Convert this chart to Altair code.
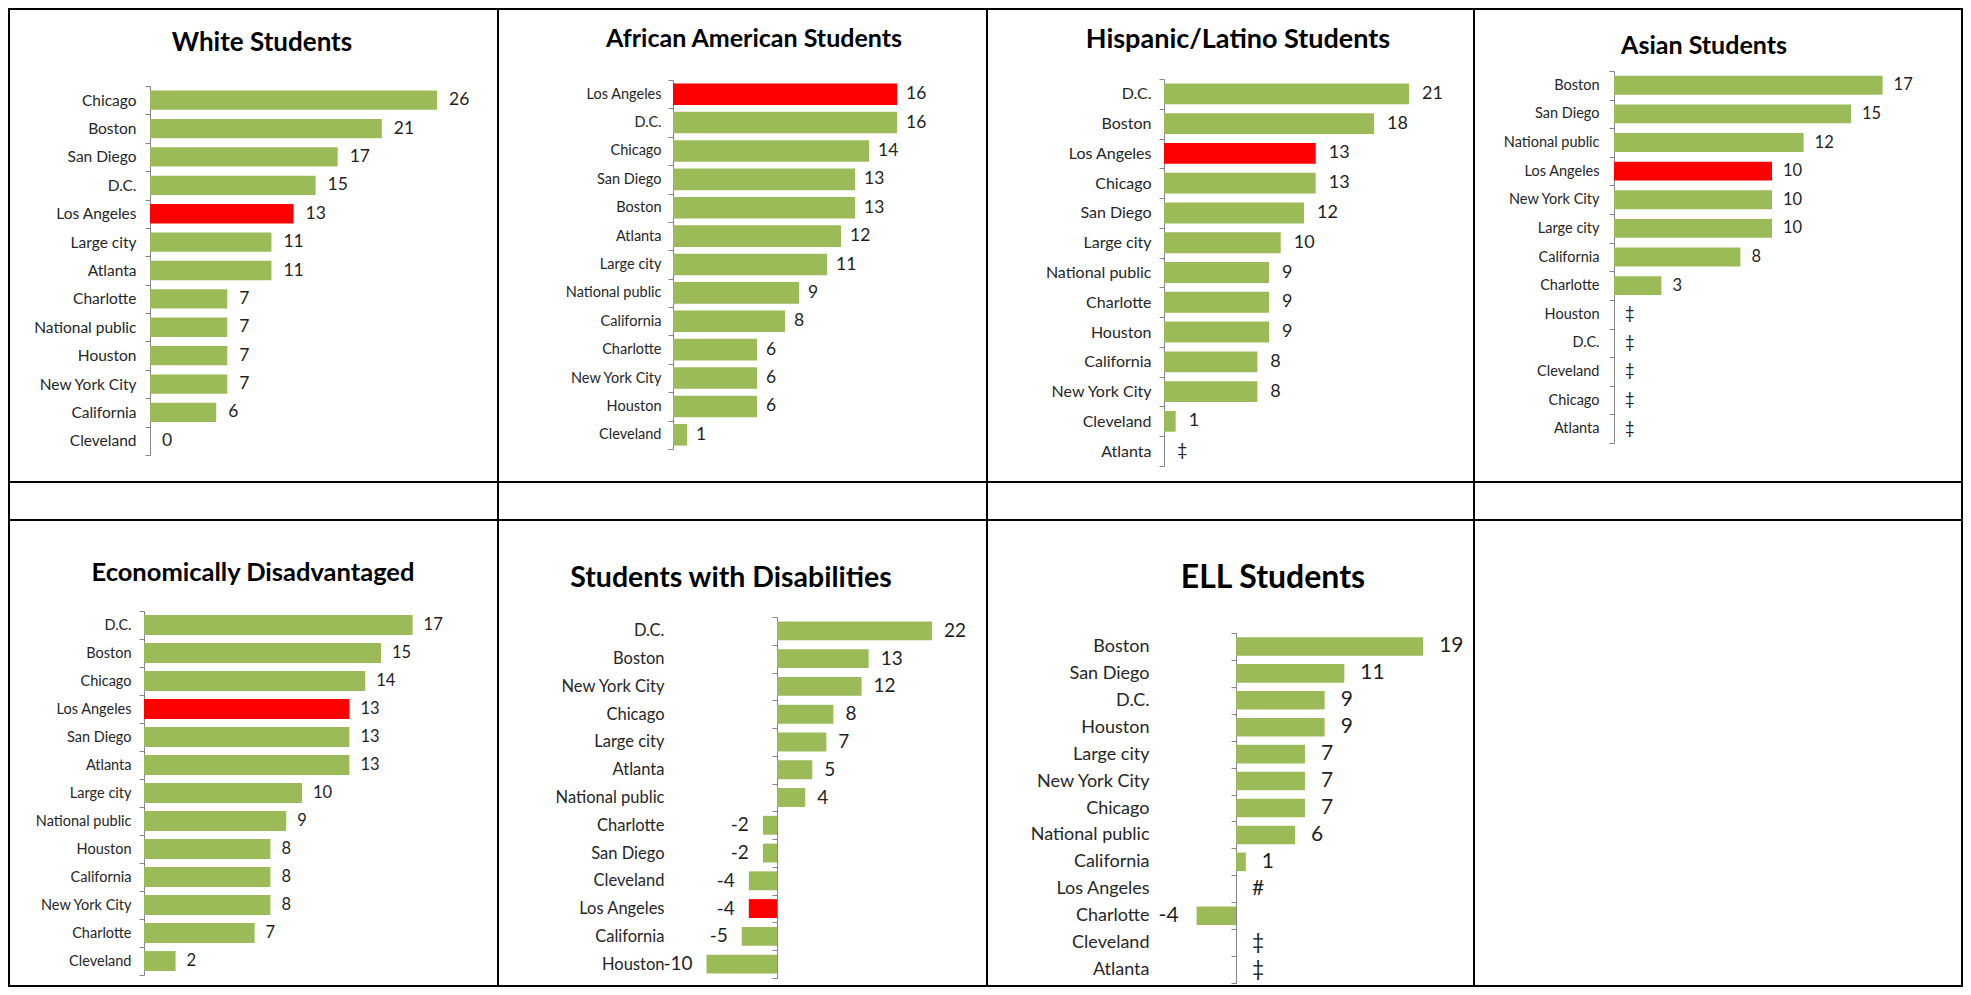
import altair as alt
import pandas as pd

FONT = "Lato"
GREEN = "#9BBB59"
RED = "#FF0000"
HIGHLIGHT = "Los Angeles"

# ---------------- data ----------------
white_cats = ["Chicago", "Boston", "San Diego", "D.C.", "Los Angeles", "Large city", "Atlanta",
              "Charlotte", "National public", "Houston", "New York City", "California", "Cleveland"]
white_vals = [26, 21, 17, 15, 13, 11, 11, 7, 7, 7, 7, 6, 0]
white_notes = [""] * 13

aa_cats = ["Los Angeles", "D.C.", "Chicago", "San Diego", "Boston", "Atlanta", "Large city",
           "National public", "California", "Charlotte", "New York City", "Houston", "Cleveland"]
aa_vals = [16, 16, 14, 13, 13, 12, 11, 9, 8, 6, 6, 6, 1]
aa_notes = [""] * 13

hisp_cats = ["D.C.", "Boston", "Los Angeles", "Chicago", "San Diego", "Large city", "National public",
             "Charlotte", "Houston", "California", "New York City", "Cleveland", "Atlanta"]
hisp_vals = [21, 18, 13, 13, 12, 10, 9, 9, 9, 8, 8, 1, None]
hisp_notes = [""] * 12 + ["‡"]

asian_cats = ["Boston", "San Diego", "National public", "Los Angeles", "New York City", "Large city",
              "California", "Charlotte", "Houston", "D.C.", "Cleveland", "Chicago", "Atlanta"]
asian_vals = [17, 15, 12, 10, 10, 10, 8, 3, None, None, None, None, None]
asian_notes = [""] * 8 + ["‡"] * 5

econ_cats = ["D.C.", "Boston", "Chicago", "Los Angeles", "San Diego", "Atlanta", "Large city",
             "National public", "Houston", "California", "New York City", "Charlotte", "Cleveland"]
econ_vals = [17, 15, 14, 13, 13, 13, 10, 9, 8, 8, 8, 7, 2]
econ_notes = [""] * 13

dis_cats = ["D.C.", "Boston", "New York City", "Chicago", "Large city", "Atlanta", "National public",
            "Charlotte", "San Diego", "Cleveland", "Los Angeles", "California", "Houston"]
dis_vals = [22, 13, 12, 8, 7, 5, 4, -2, -2, -4, -4, -5, -10]
dis_notes = [""] * 13

ell_cats = ["Boston", "San Diego", "D.C.", "Houston", "Large city", "New York City", "Chicago",
            "National public", "California", "Los Angeles", "Charlotte", "Cleveland", "Atlanta"]
ell_vals = [19, 11, 9, 9, 7, 7, 7, 6, 1, None, -4, None, None]
ell_notes = [""] * 9 + ["#", "", "‡", "‡"]

# ---------------- layout (page pixels) ----------------
col_left = [8, 497, 986, 1473]
col_w = [489, 489, 487, 488]
row_top = [9, 520]
row_h = [473, 466]
spacer_h = 38

panels = [
    dict(title="White Students", cats=white_cats, vals=white_vals, notes=white_notes, col=0, row=0,
         axis_x=149, ppu=11.04, y0=86, y1=455, bar=0.68, gap=14, vdx=12, vndx=14,
         tcx=261, tty=30, tfs=26, lfs=15.5, vfs=17.5),
    dict(title="African American Students", cats=aa_cats, vals=aa_vals, notes=aa_notes, col=1, row=0,
         axis_x=672, ppu=14.0, y0=80, y1=449, bar=0.76, gap=12, vdx=9, vndx=14,
         tcx=753, tty=28, tfs=25, lfs=14.5, vfs=17.5),
    dict(title="Hispanic/Latino Students", cats=hisp_cats, vals=hisp_vals, notes=hisp_notes, col=2, row=0,
         axis_x=1163, ppu=11.67, y0=79, y1=466, bar=0.70, gap=13, vdx=13, vndx=14,
         tcx=1237, tty=28, tfs=27, lfs=16, vfs=18),
    dict(title="Asian Students", cats=asian_cats, vals=asian_vals, notes=asian_notes, col=3, row=0,
         axis_x=1613, ppu=15.8, y0=71, y1=443, bar=0.66, gap=15, vdx=11, vndx=14,
         tcx=1703, tty=35, tfs=25, lfs=14.5, vfs=16.5),
    dict(title="Economically Disadvantaged", cats=econ_cats, vals=econ_vals, notes=econ_notes, col=0, row=1,
         axis_x=143, ppu=15.8, y0=611, y1=975, bar=0.71, gap=13, vdx=11, vndx=14,
         tcx=252, tty=562, tfs=25.5, lfs=14.5, vfs=16.5),
    dict(title="Students with Disabilities", cats=dis_cats, vals=dis_vals, notes=dis_notes, col=1, row=1,
         axis_x=776, ppu=7.05, y0=617, y1=978, bar=0.68, gap=113, vdx=12, vndx=14,
         tcx=730, tty=565, tfs=28.5, lfs=16.5, vfs=19),
    dict(title="ELL Students", cats=ell_cats, vals=ell_vals, notes=ell_notes, col=2, row=1,
         axis_x=1235, ppu=9.85, y0=633, y1=983, bar=0.69, gap=87, vdx=16, vndx=18,
         tcx=1272, tty=565, tfs=32, lfs=18, vfs=21),
]


def make_panel(p):
    c, r = p["col"], p["row"]
    W, H = col_w[c], row_h[r]
    ax = p["axis_x"] - col_left[c]
    dmin = -ax / p["ppu"]
    dmax = (W - ax) / p["ppu"]
    y0 = p["y0"] - row_top[r]
    y1 = p["y1"] - row_top[r]

    labs, xpos = [], []
    for v, n in zip(p["vals"], p["notes"]):
        labs.append(n if n else str(v))
        xpos.append(0 if v is None else v)
    df = pd.DataFrame({"cat": p["cats"], "val": p["vals"], "lab": labs, "xpos": xpos})

    xs = alt.Scale(domain=[dmin, dmax], nice=False, zero=False)
    ys = alt.Scale(domain=p["cats"], range=[y0, y1], paddingInner=0, paddingOuter=0)
    yaxis = alt.Axis(title=None, orient="left", offset=-ax, domain=True, domainColor="#868686",
                     domainWidth=1, ticks=True, tickColor="#868686", tickSize=5, tickBand="extent",
                     labelPadding=p["gap"] - 5, labelFont=FONT, labelFontSize=p["lfs"],
                     labelColor="#262626", labelOverlap=False, labelLimit=400, grid=False)
    X = lambda f: alt.X(f, type="quantitative", scale=xs, axis=None)
    Y = alt.Y("cat:N", scale=ys, axis=yaxis, sort=p["cats"])

    base = alt.Chart(df)
    bars = base.mark_bar(height={"band": p["bar"]}).encode(
        x=X("val"), y=Y,
        color=alt.condition(alt.datum.cat == HIGHLIGHT, alt.value(RED), alt.value(GREEN)),
    )
    pos = base.transform_filter("datum.xpos >= 0").mark_text(
        align="left", baseline="middle", dx=p["vdx"], font=FONT, fontSize=p["vfs"], color="#1f1f1f"
    ).encode(x=X("xpos"), y=Y, text="lab:N")
    neg = base.transform_filter("datum.xpos < 0").mark_text(
        align="right", baseline="middle", dx=-p["vndx"], font=FONT, fontSize=p["vfs"], color="#1f1f1f"
    ).encode(x=X("xpos"), y=Y, text="lab:N")

    cell_center = col_left[c] + W / 2
    title = alt.TitleParams(
        text=p["title"], anchor="middle", frame="group", font=FONT, fontSize=p["tfs"],
        fontWeight="bold", color="#000000", baseline="top",
        offset=-((p["tty"] - row_top[r]) + 7 + p["tfs"]), dx=p["tcx"] - cell_center,
    )
    return alt.layer(bars, pos, neg).properties(width=W, height=H, title=title)


def blank(w, h):
    return alt.Chart(pd.DataFrame({"a": [0]})).mark_text(text="", opacity=0).encode(
        x=alt.value(w / 2), y=alt.value(h / 2)
    ).properties(width=w, height=h)


charts = [make_panel(p) for p in panels]
cells = (
    charts[0:4]
    + [blank(w, spacer_h) for w in col_w]
    + charts[4:7]
    + [blank(col_w[3], row_h[1])]
)

chart = alt.concat(*cells, columns=4, spacing=0, bounds="flush").properties(
    padding={"top": -8, "left": 0, "right": 0, "bottom": 0}, background="white"
).configure_view(stroke="black", strokeWidth=2)

chart.save("out.html", embed_options={"renderer": "svg", "actions": False})
